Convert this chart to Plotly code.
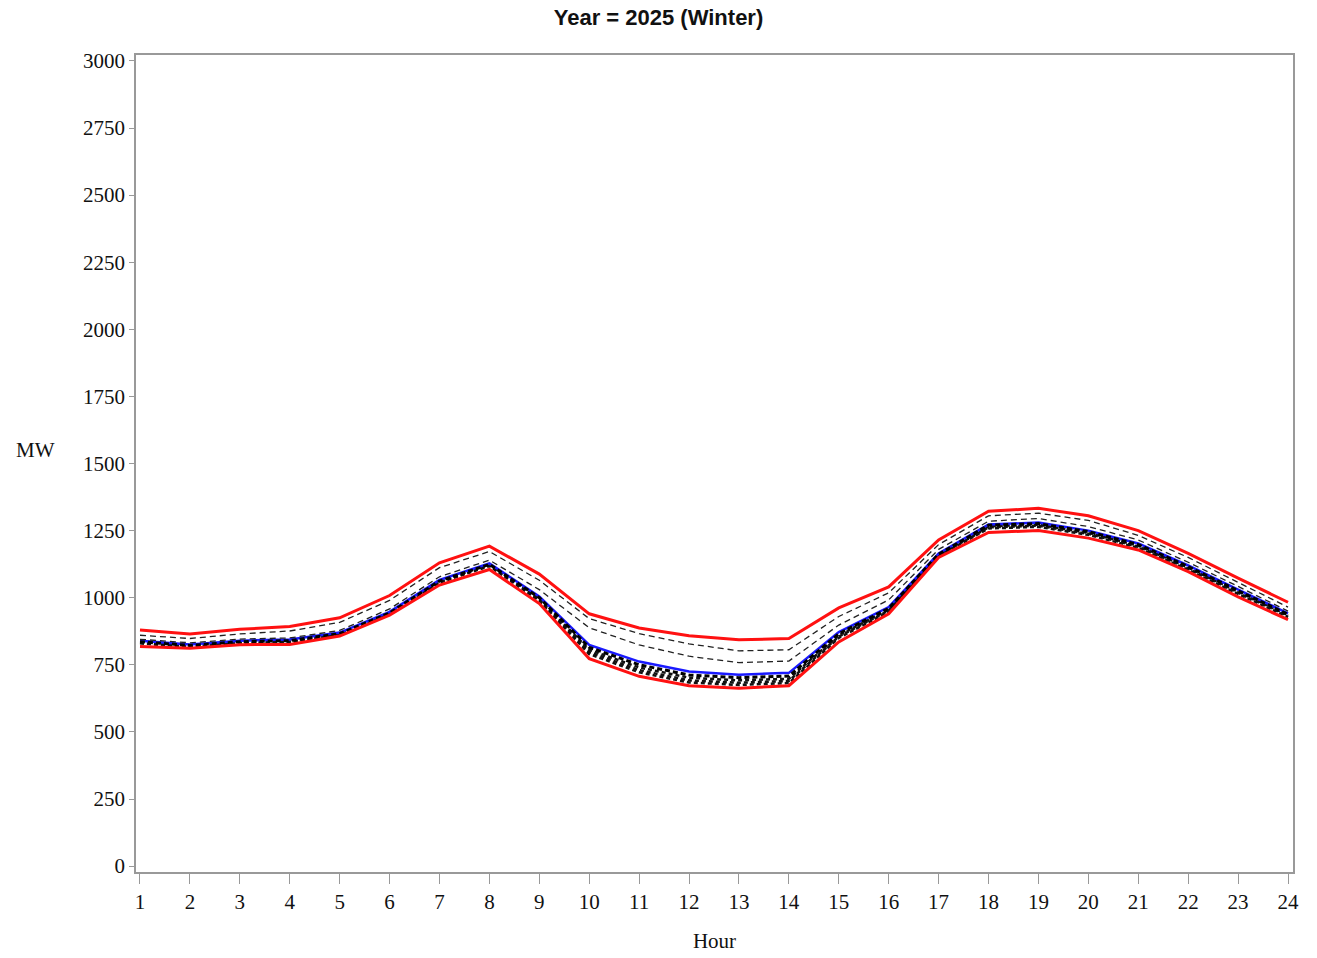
import plotly.graph_objects as go

hours = list(range(1, 25))

# Load envelope (red)
upper = [880, 865, 882, 893, 925, 1008, 1130, 1192, 1088, 940, 887, 858,
         843, 848, 962, 1040, 1215, 1322, 1333, 1305, 1250, 1165, 1073, 983]
lower = [818, 812, 825, 826, 857, 935, 1047, 1105, 978, 773, 707, 672,
         663, 672, 835, 940, 1150, 1243, 1250, 1222, 1178, 1097, 1003, 918]

# Upper scenario traces (thin dashed)
scen_a = [860, 848, 865, 876, 908, 990, 1112, 1172, 1065, 922, 866, 828,
          802, 806, 930, 1018, 1198, 1305, 1315, 1288, 1232, 1150, 1057, 965]
scen_b = [845, 832, 846, 850, 878, 958, 1078, 1140, 1030, 888, 824, 782,
          758, 764, 898, 992, 1180, 1285, 1295, 1265, 1215, 1132, 1042, 950]

# Base case (blue)
base = [840, 826, 840, 844, 870, 947, 1066, 1128, 1005, 824, 762, 725,
        713, 720, 872, 965, 1165, 1273, 1280, 1250, 1202, 1120, 1030, 942]

# Lower scenario cluster (heavy dashed)
scen_c1 = [836, 822, 836, 840, 866, 943, 1062, 1124, 1000, 815, 750, 712,
           702, 708, 866, 960, 1162, 1270, 1276, 1246, 1198, 1116, 1026, 938]
scen_c2 = [834, 820, 834, 838, 864, 941, 1060, 1122, 996, 806, 740, 702,
           692, 698, 860, 956, 1160, 1266, 1272, 1242, 1194, 1112, 1022, 935]
scen_c3 = [832, 818, 832, 836, 862, 939, 1058, 1120, 992, 798, 730, 692,
           683, 690, 855, 952, 1157, 1262, 1268, 1238, 1190, 1108, 1018, 932]
scen_c4 = [830, 816, 830, 834, 860, 937, 1056, 1118, 988, 790, 722, 684,
           675, 682, 850, 948, 1155, 1258, 1264, 1234, 1186, 1104, 1014, 928]

y_ticks = [0, 250, 500, 750, 1000, 1250, 1500, 1750, 2000, 2250, 2500, 2750, 3000]

fig = go.Figure()

def add(y, color, width, dash):
    fig.add_trace(go.Scatter(x=hours, y=y, mode="lines",
                             line=dict(color=color, width=width, dash=dash),
                             showlegend=False, hoverinfo="skip"))

for s in (scen_c4, scen_c3, scen_c2):
    add(s, "#111111", 2.5, "4px,3px")
add(base, "#1a1aff", 2.5, "solid")
add(scen_c1, "#000000", 3, "5px,3px")
add(scen_b, "#222222", 1.3, "6px,4px")
add(scen_a, "#222222", 1.3, "6px,4px")
add(upper, "#ff1111", 3, "solid")
add(lower, "#ff1111", 3, "solid")

axis_font = dict(family="Liberation Serif, Times New Roman, serif", size=21, color="#111111")

fig.update_layout(
    width=1317, height=958,
    margin=dict(l=136, r=24, t=55, b=86),
    paper_bgcolor="white", plot_bgcolor="white",
    title=dict(text="<b>Year = 2025 (Winter)</b>", x=0.5, xanchor="center",
               y=0.982, yanchor="middle",
               font=dict(family="Liberation Sans Narrow, Arial Narrow, Liberation Sans, sans-serif",
                         size=22, color="#111111")),
    xaxis=dict(range=[0.92, 24.1], tickmode="array", tickvals=hours,
               ticktext=[str(h) for h in hours], automargin=False,
               showline=True, linecolor="#999999", linewidth=1.5, mirror=True,
               ticks="outside", ticklen=10, tickcolor="#999999", tickwidth=1,
               showgrid=False, zeroline=False, tickfont=axis_font,
               title=dict(text="Hour", font=axis_font, standoff=20)),
    yaxis=dict(range=[-22, 3022], tickmode="array", tickvals=y_ticks,
               ticktext=[str(v) for v in y_ticks], automargin=False,
               showline=True, linecolor="#999999", linewidth=1.5, mirror=True,
               ticks="outside", ticklen=5, tickcolor="#999999", tickwidth=1,
               showgrid=False, zeroline=False, tickfont=axis_font),
)

# MW label placed horizontally to the left of the plot area
plot_w = 1317 - 136 - 24
plot_h = 958 - 55 - 86
fig.add_annotation(text="MW", xref="paper", yref="paper",
                   x=(35 - 136) / plot_w, y=(958 - 86 - 450) / plot_h,
                   xanchor="center", yanchor="middle",
                   showarrow=False, font=axis_font)

fig.write_html("out.html")
